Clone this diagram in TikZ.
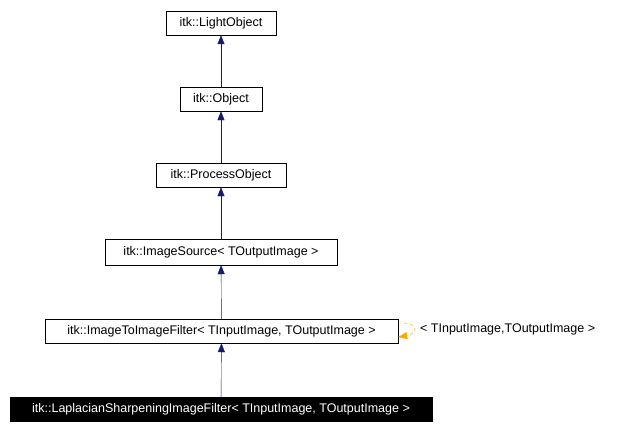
\documentclass[tikz,border=0pt]{standalone}
\usepackage{fontspec}
\setmainfont{Liberation Sans}
\usetikzlibrary{arrows.meta}
\definecolor{navy}{RGB}{25,25,112}
\definecolor{tmplorange}{RGB}{255,165,0}
\tikzset{
  cls/.style={draw=black, fill=white, inner sep=0pt, minimum height=24pt, font=\fontsize{12.5}{14}\selectfont},
  inh/.style={navy, -{Triangle[length=9pt,width=7pt]}},
}
\begin{document}
\begin{tikzpicture}[x=1pt,y=-1pt]
  \useasboundingbox (0,0) rectangle (618,428);

  % class boxes
  \node[cls, minimum width=110pt] (light) at (221,23) {itk::LightObject};
  \node[cls, minimum width=82pt] (obj) at (221,99) {itk::Object};
  \node[cls, minimum width=130pt] (proc) at (221,175) {itk::ProcessObject};
  \node[cls, minimum width=232pt, minimum height=26pt] (src) at (221,252) {itk::ImageSource< TOutputImage >};
  \node[cls, minimum width=353pt] (i2i) at (221.5,331) {itk::ImageToImageFilter< TInputImage, TOutputImage >};
  \node[cls, fill=black, text=white, minimum width=422pt] (lap) at (221,409) {itk::LaplacianSharpeningImageFilter< TInputImage, TOutputImage >};

  % inheritance
  \draw[inh] (obj) -- (light);
  \draw[inh] (proc) -- (obj);
  \draw[inh] (src) -- (proc);
  \draw[inh] (i2i) -- (src);
  \draw[inh] (lap) -- (i2i);

  % template instance
  \coordinate (tip) at (i2i.east |- 0,337);
  \draw[tmplorange, dashed, -{Triangle[length=9pt,width=7pt]}]
    (i2i.east |- 0,323) .. controls (420,322) and (418,334) .. (tip);
  \node[anchor=west, inner sep=0pt, font=\fontsize{12.5}{14}\selectfont] (tlab) at (420,329) {< TInputImage,TOutputImage >};
\end{tikzpicture}
\end{document}
